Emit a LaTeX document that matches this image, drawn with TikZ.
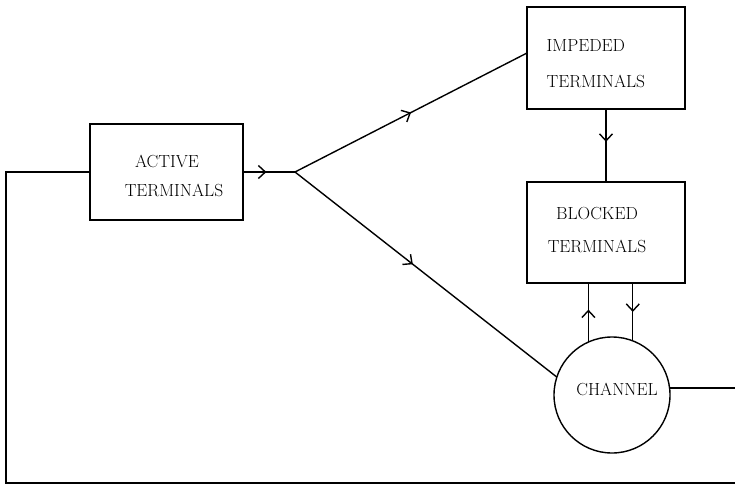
\documentclass[tikz,border=0pt]{standalone}
\usetikzlibrary{arrows.meta,decorations.markings}
\begin{document}
\begin{tikzpicture}[x=1pt,y=-1pt,
  line width=1.4pt,
  box/.style={draw,rectangle,outer sep=0pt,inner sep=0pt},
  lbl/.style={inner sep=0pt,font=\fontsize{17.5}{20}\selectfont,anchor=base},
  lbll/.style={inner sep=0pt,font=\fontsize{17.5}{20}\selectfont,anchor=base west},
  midarr/.style={postaction={decorate},decoration={markings,
    mark=at position #1 with {\arrow{Straight Barb[length=7pt,width=13pt,line width=1.4pt]}}}},
  midarr/.default=0.5]
\useasboundingbox (0,0) rectangle (735,487);
% boxes
\node[box,minimum width=153pt,minimum height=96pt] (act) at (166.5,172) {};
\node[box,minimum width=158pt,minimum height=102pt] (imp) at (606,58) {};
\node[box,minimum width=158pt,minimum height=101pt] (blk) at (606,232.5) {};
\node[draw,circle,minimum size=116pt,inner sep=0pt,outer sep=0pt] (ch) at (612,395) {};
% texts
\node[lbl] (actA) at (167,167) {ACTIVE};
\node[lbl] (actB) at (174,196) {TERMINALS};
\node[lbll] (impA) at (546,52) {IMPEDED};
\node[lbll] (impB) at (546,87) {TERMINALS};
\node[lbl] (blkA) at (597,219) {BLOCKED};
\node[lbl] (blkB) at (597,252) {TERMINALS};
\node[lbl] (chA) at (617,395) {CHANNEL};
% coordinates
\coordinate (J) at (295,172);
\coordinate (rE) at (735,388);
\coordinate (bR) at (735,483);
\coordinate (bL) at (6,483);
\coordinate (tL) at (6,172);
% connectors
\draw[midarr=0.45] (act.east) -- (J);
\draw[midarr=0.5] (J) -- ([yshift=5pt]imp.west);
\draw[midarr=0.45] (J) -- (ch.162);
\draw[midarr=0.45] (imp.south) -- (blk.north);
\draw[midarr=0.55] (ch.114) -- (ch.114 |- blk.south);
\draw[midarr=0.5] (ch.69 |- blk.south) -- (ch.69);
\draw (ch.7) -- (ch.7 -| rE);
\draw (bR) -- (bL) -- (tL) -- (act.west);
\end{tikzpicture}
\end{document}
